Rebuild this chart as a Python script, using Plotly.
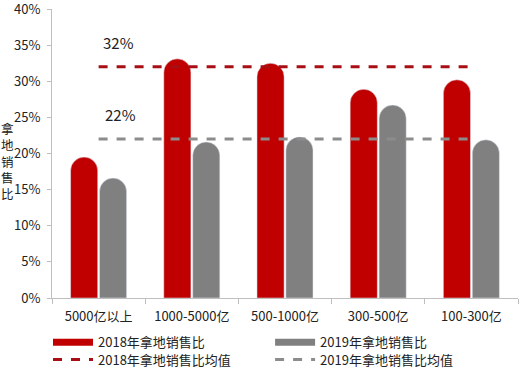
import plotly.graph_objects as go

categories = ["5000亿以上", "1000-5000亿", "500-1000亿", "300-500亿", "100-300亿"]
ratio_2018 = [19.5, 33.1, 32.5, 28.9, 30.2]
ratio_2019 = [16.6, 21.6, 22.3, 26.7, 21.9]
mean_2018 = 32
mean_2019 = 22
y_ticks = [0, 5, 10, 15, 20, 25, 30, 35, 40]
y_ticktext = [f"{v}%" for v in y_ticks]
y_title = "拿地销售比"

RED = "#C00000"
GRAY = "#808080"
DRED = "#A80F14"
DGRAY = "#8C8C8C"
FONT = "Noto Sans CJK SC"

fig = go.Figure()
fig.add_trace(go.Bar(x=categories, y=ratio_2018, marker=dict(color=RED, cornerradius="50%"),
                     showlegend=False, name="2018年拿地销售比"))
fig.add_trace(go.Bar(x=categories, y=ratio_2019, marker=dict(color=GRAY, cornerradius="50%"),
                     showlegend=False, name="2019年拿地销售比"))
fig.add_trace(go.Scatter(x=[categories[0], categories[-1]], y=[mean_2018, mean_2018], mode="lines",
                         line=dict(color=DRED, width=3, dash="dash"), showlegend=False))
fig.add_trace(go.Scatter(x=[categories[0], categories[-1]], y=[mean_2019, mean_2019], mode="lines",
                         line=dict(color=DGRAY, width=3, dash="dash"), showlegend=False))
# legend proxies, one legend per cell of a 2x2 grid
fig.add_trace(go.Scatter(x=[None], y=[None], mode="lines", line=dict(color=RED, width=7),
                         name="2018年拿地销售比", legend="legend"))
fig.add_trace(go.Scatter(x=[None], y=[None], mode="lines", line=dict(color=GRAY, width=7),
                         name="2019年拿地销售比", legend="legend2"))
fig.add_trace(go.Scatter(x=[None], y=[None], mode="lines", line=dict(color=DRED, width=3, dash="dash"),
                         name="2018年拿地销售比均值", legend="legend3"))
fig.add_trace(go.Scatter(x=[None], y=[None], mode="lines", line=dict(color=DGRAY, width=3, dash="dash"),
                         name="2019年拿地销售比均值", legend="legend4"))

fig.add_annotation(x=categories[0], y=mean_2018, text=f"{mean_2018}%", showarrow=False,
                   xshift=20, yshift=24, font=dict(size=15, color="#222"))
fig.add_annotation(x=categories[0], y=mean_2019, text=f"{mean_2019}%", showarrow=False,
                   xshift=22, yshift=25, font=dict(size=15, color="#222"))
fig.add_annotation(xref="paper", yref="paper", x=-0.095, y=0.625, yanchor="top",
                   text="<br>".join(y_title),
                   showarrow=False, font=dict(size=12.5, color="#222"), xanchor="center")

legend_common = dict(orientation="v", xanchor="left", yanchor="middle", tracegroupgap=0,
                     itemwidth=40, font=dict(size=13, color="#222"), bgcolor="rgba(0,0,0,0)",
                     borderwidth=0)
fig.update_layout(
    width=522, height=370,
    margin=dict(l=52, r=4, t=9, b=72, autoexpand=False),
    plot_bgcolor="white", paper_bgcolor="white",
    font=dict(family=FONT, size=12, color="#222"),
    barmode="group", bargap=0.38, bargroupgap=0.06,
    showlegend=True,
    legend=dict(x=-0.0086, y=-0.153, **legend_common),
    legend2=dict(x=0.468, y=-0.153, **legend_common),
    legend3=dict(x=-0.0086, y=-0.2128, **legend_common),
    legend4=dict(x=0.468, y=-0.2128, **legend_common),
)
fig.update_xaxes(showline=True, linecolor="#BFBFBF", linewidth=1, ticks="outside", ticklen=5,
                 tickcolor="#BFBFBF", tickson="boundaries", showgrid=False, ticklabelstandoff=6,
                 tickfont=dict(size=13), categoryorder="array", categoryarray=categories,
                 automargin=False)
fig.update_yaxes(range=[0, 40], tickvals=y_ticks, ticktext=y_ticktext, showline=True,
                 linecolor="#BFBFBF", linewidth=1, ticks="outside", ticklen=4, tickcolor="#BFBFBF",
                 showgrid=False, tickfont=dict(size=13), zeroline=False, automargin=False,
                 ticklabeloverflow="allow", ticklabelstandoff=4)

fig.write_html("out.html", config={"displayModeBar": False},
               post_script="document.body.style.margin='0';document.body.style.overflow='hidden';")
